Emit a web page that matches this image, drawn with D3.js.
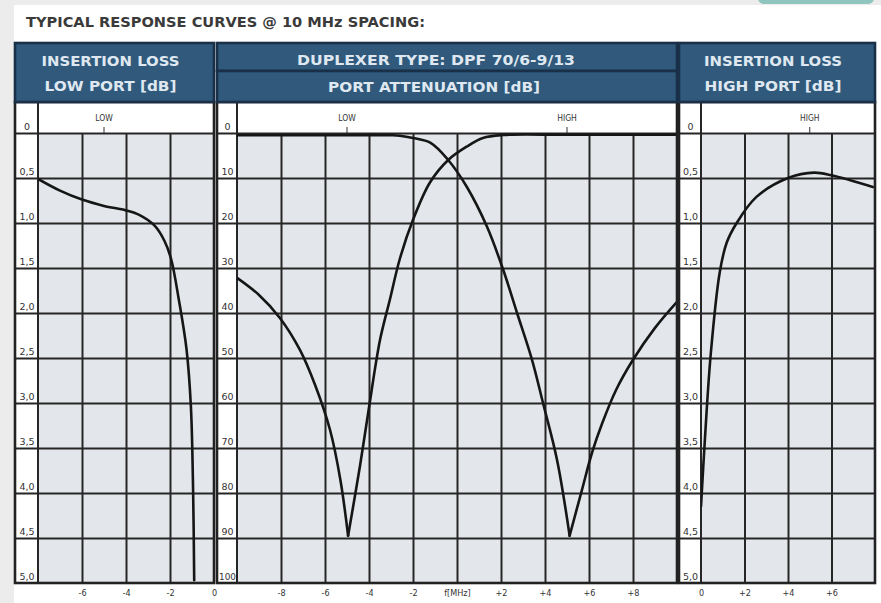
<!DOCTYPE html>
<html>
<head>
<meta charset="utf-8">
<title>Typical response curves</title>
<script src="https://cdnjs.cloudflare.com/ajax/libs/d3/7.8.5/d3.min.js"></script>
<style>
    body { margin: 0; background: #ececec; }
    svg { display: block; }
    .title { font: bold 14px "DejaVu Sans", sans-serif; fill: #3a3a3a; }
    .head { font: bold 14px "DejaVu Sans", sans-serif; fill: #dfe8f0; }
    .lbl { font: 9px "DejaVu Sans Condensed", "DejaVu Sans", sans-serif; fill: #333; }
    .ylbl { font: 9.5px "DejaVu Sans", sans-serif; fill: #333; }
    .band { font: 8.5px "DejaVu Sans Condensed", "DejaVu Sans", sans-serif; fill: #333; }
    .grid line { stroke: #262626; stroke-width: 2; }
    .grid path { display: none; }
    .curve { fill: none; stroke: #161616; stroke-width: 2.6; stroke-linejoin: round; stroke-linecap: round; }
</style>
</head>
<body>
<svg id="chart" width="881" height="603"></svg>
<script>

    // ---- values ----
    var lossTicks  = [0, 0.5, 1, 1.5, 2, 2.5, 3, 3.5, 4, 4.5, 5];
    var attenTicks = [0, 10, 20, 30, 40, 50, 60, 70, 80, 90, 100];
    var lowFreqTicks  = [-6, -4, -2, 0];
    var midFreqTicks  = [-8, -6, -4, -2, 0, 2, 4, 6, 8];
    var highFreqTicks = [0, 2, 4, 6];

    // [f MHz, dB]
    var lowPortLoss = [[-8, 0.51], [-7, 0.64], [-6, 0.74], [-5, 0.81], [-4, 0.86], [-3.4, 0.91],
        [-2.7, 1.03], [-2.25, 1.2], [-1.95, 1.4], [-1.6, 1.85], [-1.25, 2.4],
        [-1.05, 3.04], [-0.95, 3.97], [-0.9, 4.97]];

    var highPortLoss = [[0, 4.15], [0.18, 3.4], [0.45, 2.45], [0.86, 1.55], [1.18, 1.22], [1.64, 1.0],
        [2.55, 0.71], [4, 0.5], [5.2, 0.44], [6, 0.47], [7.9, 0.6]];

    var lowPortAtten = [[-10, 0.5], [-6, 0.5], [-3, 0.5], [-2.6, 0.6], [-2, 1.1], [-1.2, 2.2], [-0.4, 6],
        [0.45, 12], [1.36, 20.8], [2.1, 30.4], [2.73, 40], [3.41, 50.4], [3.91, 60], [4.55, 72.7],
        [5.12, 89.5], [5.68, 79.3], [6.14, 71], [6.6, 64.5], [7.23, 57.1], [8, 50.4], [9, 43.3], [10, 37.5]];

    var highPortAtten = [[-10, 32.2], [-9, 36], [-8.05, 41.1], [-7.14, 48.2], [-6.45, 56], [-5.77, 66],
        [-5.3, 77.1], [-4.95, 89.5], [-4.41, 74], [-4, 61], [-3.5, 46], [-3.05, 37], [-2.6, 28],
        [-2, 19.3], [-1.23, 11], [-0.4, 6], [0.45, 3], [1.18, 1.1], [2.1, 0.45], [5, 0.4], [10, 0.4]];

    var passbands = [{label: "LOW", f: -5}, {label: "HIGH", f: 5}];


    var svg = d3.select("#chart");

    // page + stray bit of the site header at the top
    svg.append("rect").attr("x", 14).attr("y", 5).attr("width", 867).attr("height", 598).attr("fill", "#fff");
    svg.append("rect").attr("x", 758).attr("y", -8).attr("width", 116).attr("height", 12).attr("rx", 6)
        .attr("fill", "#8fc4bf");

    svg.append("text").attr("class", "title").attr("x", 26).attr("y", 27)
        .attr("textLength", 399).attr("lengthAdjust", "spacingAndGlyphs")
        .text("TYPICAL RESPONSE CURVES @ 10 MHz SPACING:");

    var headTop = 43, split = 71, headBottom = 102, zeroY = 133, botY = 583;
    var headFill = "#30597c", headLine = "#1a3048";

    var yLoss = d3.scaleLinear().domain([0, 5]).range([zeroY, botY]);
    var yAtten = d3.scaleLinear().domain([0, 100]).range([zeroY, botY]);

    var lossFmt = function(v){ return v === 0 ? "0" : d3.format(".1f")(v).replace(".", ","); };
    var freqFmt = function(v){ return v > 0 ? "+" + v : String(v); };

    var panels = [
        {x0: 15, col: 38, x1: 214, domain: [-8, 0], fticks: lowFreqTicks, y: yLoss, yticks: lossTicks, yfmt: lossFmt,
            curves: [lowPortLoss], marks: [passbands[0]], head: ["INSERTION LOSS", "LOW PORT [dB]"], hw: [138, 132]},
        {x0: 217, col: 237, x1: 677, domain: [-10, 10], fticks: midFreqTicks, y: yAtten, yticks: attenTicks, yfmt: String,
            curves: [lowPortAtten, highPortAtten], marks: passbands, head: ["DUPLEXER TYPE: DPF 70/6-9/13", "PORT ATTENUATION [dB]"], hw: [278, 212]},
        {x0: 679, col: 701, x1: 875, domain: [0, 8], fticks: highFreqTicks, y: yLoss, yticks: lossTicks, yfmt: lossFmt,
            curves: [highPortLoss], marks: [passbands[1]], head: ["INSERTION LOSS", "HIGH PORT [dB]"], hw: [138, 137]}
    ];

    panels.forEach(function(p, i){
        var g = svg.append("g");
        var x = d3.scaleLinear().domain(p.domain).range([p.col, p.x1]);
        var w = p.x1 - p.x0;

        // backgrounds
        g.append("rect").attr("x", p.x0).attr("y", headBottom).attr("width", w).attr("height", botY - headBottom).attr("fill", "#fff");
        g.append("rect").attr("x", p.col).attr("y", zeroY).attr("width", p.x1 - p.col).attr("height", botY - zeroY).attr("fill", "#e3e7eb");

        // horizontal grid through the label column
        g.append("g").attr("class", "grid").attr("transform", "translate(" + p.x0 + ",0)")
            .call(d3.axisLeft(p.y).tickValues(p.yticks.slice(0, -1)).tickSize(-w).tickFormat(""));

        // vertical grid
        var inner = p.fticks.filter(function(v){ return v > p.domain[0] && v < p.domain[1]; });
        g.append("g").attr("class", "grid").attr("transform", "translate(0," + botY + ")")
            .call(d3.axisBottom(x).tickValues(inner).tickSize(-(botY - zeroY)).tickFormat(""));

        g.append("line").attr("x1", p.col).attr("x2", p.col).attr("y1", headBottom).attr("y2", botY)
            .attr("stroke", "#262626").attr("stroke-width", 2);

        // y labels sit just above their line
        g.selectAll(".ylab").data(p.yticks).enter().append("text")
            .attr("class", "ylbl").attr("text-anchor", "middle")
            .attr("x", (p.x0 + p.col) / 2 + 0.5)
            .attr("y", function(d){ return p.y(d) - 3; })
            .attr("textLength", function(d){ return d === 100 ? 17 : null; })
            .attr("lengthAdjust", "spacingAndGlyphs")
            .text(p.yfmt);

        // frequency labels under the panel
        var ax = g.append("g").attr("transform", "translate(0," + botY + ")")
            .call(d3.axisBottom(x).tickValues(p.fticks).tickSize(0)
                .tickFormat(function(d){ return (i === 1 && d === 0) ? "f[MHz]" : freqFmt(d); }));
        ax.select(".domain").remove();
        ax.selectAll("text").attr("class", "lbl").attr("y", 7).attr("fill", null);
        ax.attr("font-size", null).attr("font-family", null);

        // LOW / HIGH markers in the white band
        p.marks.forEach(function(m){
            g.append("text").attr("class", "band").attr("text-anchor", "middle")
                .attr("x", x(m.f)).attr("y", 121).text(m.label);
            g.append("line").attr("x1", x(m.f)).attr("x2", x(m.f)).attr("y1", 127).attr("y2", zeroY)
                .attr("stroke", "#333").attr("stroke-width", 1);
        });

        // curves, split at the notch so it stays sharp
        var clipId = "clip" + i;
        svg.append("clipPath").attr("id", clipId).append("rect")
            .attr("x", p.col).attr("y", zeroY - 2).attr("width", p.x1 - p.col).attr("height", botY - zeroY + 2);
        var line = d3.line().x(function(d){ return x(d[0]); }).y(function(d){ return p.y(d[1]); })
            .curve(d3.curveCatmullRom.alpha(0.5));
        p.curves.forEach(function(c){
            var k = d3.maxIndex(c, function(d){ return d[1]; });
            var parts = (k > 0 && k < c.length - 1) ? [c.slice(0, k + 1), c.slice(k)] : [c];
            parts.forEach(function(seg){
                g.append("path").attr("class", "curve").attr("clip-path", "url(#" + clipId + ")").attr("d", line(seg));
            });
        });

        // frame
        g.append("rect").attr("x", p.x0).attr("y", headBottom).attr("width", w).attr("height", botY - headBottom)
            .attr("fill", "none").attr("stroke", "#222").attr("stroke-width", 2.6);

        // header
        var cx = (p.x0 + p.x1) / 2;
        if (i === 1) {
            g.append("rect").attr("x", p.x0).attr("y", headTop).attr("width", w).attr("height", split - headTop)
                .attr("fill", headFill).attr("stroke", headLine).attr("stroke-width", 2.6);
            g.append("rect").attr("x", p.x0).attr("y", split).attr("width", w).attr("height", headBottom - split)
                .attr("fill", headFill).attr("stroke", headLine).attr("stroke-width", 2.6);
            g.append("text").attr("class", "head").attr("text-anchor", "middle").attr("x", 436).attr("y", 65)
                .attr("textLength", p.hw[0]).attr("lengthAdjust", "spacingAndGlyphs").text(p.head[0]);
            g.append("text").attr("class", "head").attr("text-anchor", "middle").attr("x", 434).attr("y", 92)
                .attr("textLength", p.hw[1]).attr("lengthAdjust", "spacingAndGlyphs").text(p.head[1]);
        } else {
            g.append("rect").attr("x", p.x0).attr("y", headTop).attr("width", w).attr("height", headBottom - headTop)
                .attr("fill", headFill).attr("stroke", headLine).attr("stroke-width", 2.6);
            g.append("text").attr("class", "head").attr("text-anchor", "middle").attr("x", cx - 4).attr("y", 66)
                .attr("textLength", p.hw[0]).attr("lengthAdjust", "spacingAndGlyphs").text(p.head[0]);
            g.append("text").attr("class", "head").attr("text-anchor", "middle").attr("x", cx - 4).attr("y", 91)
                .attr("textLength", p.hw[1]).attr("lengthAdjust", "spacingAndGlyphs").text(p.head[1]);
        }
    });

</script>
</body>
</html>
